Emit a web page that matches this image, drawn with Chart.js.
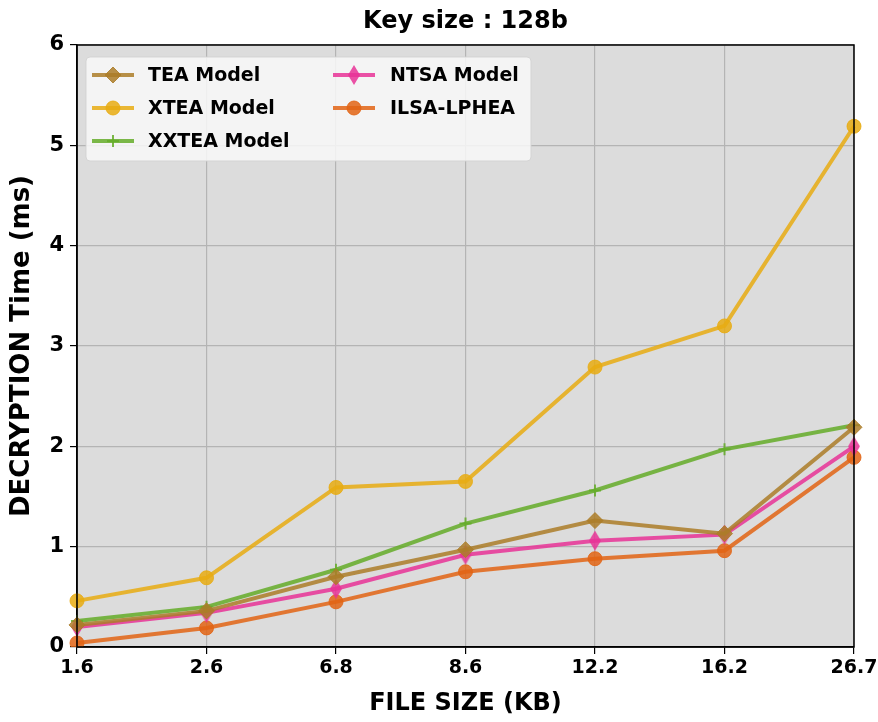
<!DOCTYPE html>
<html lang="en">
<head>
    <meta charset="UTF-8">
    <title>Key size : 128b</title>
    <style>
        html, body { margin: 0; padding: 0; background: #fff; }
        #wrap { width: 878px; height: 722px; position: relative; }
    </style>
</head>
<body>
    <div id="wrap"><canvas id="chart"></canvas></div>
    <script src="https://cdn.jsdelivr.net/npm/chart.js"></script>
    <script>
    // categorii si valori
    const fileSizes = ['1.6', '2.6', '6.8', '8.6', '12.2', '16.2', '26.7'];
    const teaModel = [0.22, 0.36, 0.70, 0.97, 1.26, 1.13, 2.19];
    const xteaModel = [0.46, 0.69, 1.59, 1.65, 2.79, 3.20, 5.19];
    const xxteaModel = [0.26, 0.40, 0.77, 1.23, 1.56, 1.97, 2.21];
    const ntsaModel = [0.20, 0.34, 0.58, 0.92, 1.06, 1.12, 2.00];
    const ilsaLphea = [0.04, 0.19, 0.45, 0.75, 0.88, 0.96, 1.89];
    const yTicks = [0, 1, 2, 3, 4, 5, 6];

    const FONT = "'DejaVu Sans', sans-serif";

    // romb subtire pentru NTSA
    function thinDiamond(color) {
        const c = document.createElement('canvas');
        c.width = 14; c.height = 20;
        const g = c.getContext('2d');
        g.fillStyle = color;
        g.beginPath();
        g.moveTo(7, 0); g.lineTo(13, 10); g.lineTo(7, 20); g.lineTo(1, 10);
        g.closePath();
        g.fill();
        return c;
    }

    const series = [
        { label: 'TEA Model', data: teaModel, color: 'rgba(172,125,40,0.85)', style: 'rectRot', radius: 8 },
        { label: 'XTEA Model', data: xteaModel, color: 'rgba(232,172,18,0.85)', style: 'circle', radius: 7 },
        { label: 'XXTEA Model', data: xxteaModel, color: 'rgba(100,172,40,0.85)', style: 'cross', radius: 6 },
        { label: 'NTSA Model', data: ntsaModel, color: 'rgba(232,50,150,0.85)', style: 'thin', radius: 8 },
        { label: 'ILSA-LPHEA', data: ilsaLphea, color: 'rgba(226,100,20,0.85)', style: 'circle', radius: 7 }
    ];

    // fundal gri, chenar, titlu si legenda
    const framePlugin = {
        id: 'frame',
        beforeDraw(chart) {
            const a = chart.chartArea, ctx = chart.ctx;
            ctx.save();
            ctx.fillStyle = '#dcdcdc';
            ctx.fillRect(a.left, a.top, a.right - a.left, a.bottom - a.top);
            ctx.restore();
        },
        afterDraw(chart) {
            const a = chart.chartArea, ctx = chart.ctx;
            ctx.save();
            ctx.strokeStyle = '#000';
            ctx.lineWidth = 1.5;
            ctx.strokeRect(a.left, a.top, a.right - a.left, a.bottom - a.top);
            ctx.fillStyle = '#000';
            ctx.font = 'bold 24px ' + FONT;
            ctx.textAlign = 'center';
            ctx.textBaseline = 'middle';
            ctx.fillText('Key size : 128b', (a.left + a.right) / 2, 22);

            // legenda in interiorul graficului
            const bx = a.left + 9, by = a.top + 12, bw = 445, bh = 104;
            ctx.fillStyle = 'rgba(248,248,248,0.85)';
            ctx.strokeStyle = 'rgba(210,210,210,0.9)';
            ctx.lineWidth = 1;
            ctx.beginPath();
            ctx.roundRect(bx, by, bw, bh, 4);
            ctx.fill();
            ctx.stroke();
            const cols = [{ x: 92, tx: 148 }, { x: 333, tx: 390 }];
            const rows = [75, 108, 141];
            ctx.font = 'bold 19px ' + FONT;
            ctx.textAlign = 'left';
            chart.data.datasets.forEach((ds, i) => {
                const col = cols[i < 3 ? 0 : 1];
                const y = rows[i < 3 ? i : i - 3];
                ctx.strokeStyle = ds.borderColor;
                ctx.fillStyle = ds.backgroundColor;
                ctx.lineWidth = 4;
                ctx.beginPath();
                ctx.moveTo(col.x, y); ctx.lineTo(col.x + 42, y);
                ctx.stroke();
                const ps = ds.pointStyle;
                const cx = col.x + 21;
                if (ps instanceof HTMLCanvasElement) {
                    ctx.drawImage(ps, cx - ps.width / 2, y - ps.height / 2);
                } else {
                    ctx.lineWidth = ps === 'cross' ? 2 : 1;
                    Chart.helpers.drawPoint(ctx, {
                        pointStyle: ps, radius: ds.pointRadius, borderWidth: ctx.lineWidth, rotation: 0
                    }, cx, y);
                }
                ctx.fillStyle = '#000';
                ctx.fillText(ds.label, col.tx, y + 1);
            });
            ctx.restore();
        }
    };

    const datasets = series.map(s => {
        const ps = s.style === 'thin' ? thinDiamond(s.color) : s.style;
        return {
            label: s.label,
            data: s.data,
            borderColor: s.color,
            backgroundColor: s.color,
            pointBackgroundColor: s.color,
            pointBorderColor: s.color,
            pointStyle: ps,
            pointRadius: s.radius,
            pointBorderWidth: s.style === 'cross' ? 2 : 1,
            borderWidth: 4,
            tension: 0,
            fill: false
        };
    });

    const chart = new Chart(document.getElementById('chart'), {
        type: 'line',
        data: { labels: fileSizes, datasets: datasets },
        options: {
            responsive: true,
            maintainAspectRatio: false,
            animation: false,
            layout: { padding: { top: 45, right: 24, left: 0, bottom: 0 } },
            plugins: { legend: { display: false }, tooltip: { enabled: false } },
            scales: {
                x: {
                    offset: false,
                    grid: { color: '#b4b4b4', lineWidth: 1.2, tickColor: '#000', tickLength: 7 },
                    border: { color: '#000', width: 1.5 },
                    ticks: { color: '#000', font: { family: FONT, weight: 'bold', size: 19 }, padding: 3, maxRotation: 0, autoSkip: false },
                    title: { display: true, text: 'FILE SIZE (KB)', color: '#000', font: { family: FONT, weight: 'bold', size: 24 }, padding: { top: 6 } },
                    afterFit(axis) {
                        axis.height = 75;
                        axis.paddingLeft = 0;
                        axis.paddingRight = 0;
                    }
                },
                y: {
                    min: 0, max: 6,
                    afterBuildTicks(axis) { axis.ticks = yTicks.map(v => ({ value: v })); },
                    grid: { color: '#b4b4b4', lineWidth: 1.2, tickColor: '#000', tickLength: 7 },
                    border: { color: '#000', width: 1.5 },
                    ticks: { color: '#000', font: { family: FONT, weight: 'bold', size: 21 }, padding: 6 },
                    title: { display: true, text: 'DECRYPTION Time (ms)', color: '#000', font: { family: FONT, weight: 'bold', size: 26 }, padding: { top: 7, bottom: 0 } },
                    afterFit(axis) { axis.width = 77; }
                }
            }
        },
        plugins: [framePlugin]
    });
    </script>
</body>
</html>
